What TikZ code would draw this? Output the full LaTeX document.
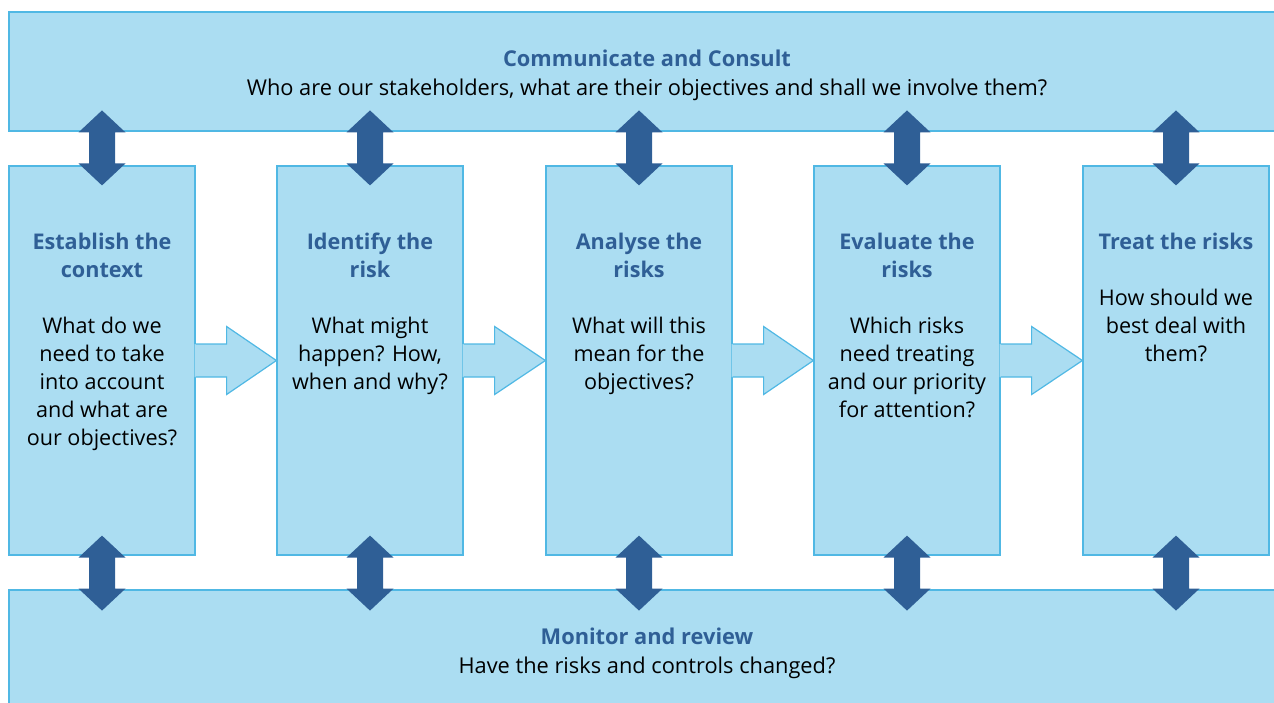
\documentclass[tikz,border=0pt]{standalone}
\usepackage{fontspec}
\setmainfont{Open Sans}
\usetikzlibrary{calc}
\definecolor{paleblue}{RGB}{171,221,242}
\definecolor{edgeblue}{RGB}{80,184,228}
\definecolor{deepblue}{RGB}{47,95,150}
\tikzset{
	band/.style={fill=paleblue,draw=edgeblue,line width=1.2pt},%
	stagebox/.style={band,minimum width=186,minimum height=389,inner sep=0},%
	bandtext/.style={align=center,inner sep=0,font=\fontsize{21.8}{29}\selectfont},%
	stagetext/.style={align=center,inner sep=0,anchor=north,yshift=-67pt,font=\fontsize{21.6}{28}\selectfont},%
	flowfill/.style={fill=paleblue},%
	flowline/.style={draw=edgeblue,line width=1.2pt,line join=miter},%
	linkarrow/.style={fill=deepblue},%
}
\newcommand\hd[1]{\textcolor{deepblue}{\bfseries #1}}

\begin{document}
\begin{tikzpicture}[x=1pt,y=-1pt]
	\useasboundingbox (0,0) rectangle (1274,702);
	\node[band,minimum width=1281,minimum height=119,inner sep=0] (consult) at (649.5,71.5) {};
	\node[bandtext] (consulttext) at (647,75.5) {\hd{Communicate and Consult}\\Who are our stakeholders, what are their objectives and shall we involve them?};
	\node[band,minimum width=1281,minimum height=120,inner sep=0] (monitor) at (649.5,650) {};
	\node[bandtext] (monitortext) at (647,653.5) {\hd{Monitor and review}\\Have the risks and controls changed?};
	\node[stagebox] (establish) at (102,360.5) {};
	\node[stagebox] (identify) at (370,360.5) {};
	\node[stagebox] (analyse) at (639,360.5) {};
	\node[stagebox] (evaluate) at (907,360.5) {};
	\node[stagebox] (treat) at (1176,360.5) {};
	\foreach \a/\b in {establish/identify,identify/analyse,analyse/evaluate,evaluate/treat}{
		\path[flowfill] ($(\a.east)+(-1,-16.5)$) -- ($(\a.east)+(31,-16.5)$) -- ($(\a.east)+(31,-34)$) -- (\b.west)
			-- ($(\a.east)+(31,34)$) -- ($(\a.east)+(31,16.5)$) -- ($(\a.east)+(-1,16.5)$) -- cycle;
		\draw[flowline] ($(\a.east)+(0,-16.5)$) -- ($(\a.east)+(31,-16.5)$) -- ($(\a.east)+(31,-34)$) -- (\b.west)
			-- ($(\a.east)+(31,34)$) -- ($(\a.east)+(31,16.5)$) -- ($(\a.east)+(0,16.5)$);
	}
	\foreach \b in {establish,identify,analyse,evaluate,treat}{
		\fill[linkarrow] ($(\b.north)+(0,-55)$) -- ++(23.5,22) -- ++(-10.5,0) -- ++(0,31) -- ++(10.5,0) -- ++(-23.5,22)
			-- ++(-23.5,-22) -- ++(10.5,0) -- ++(0,-31) -- ++(-10.5,0) -- cycle;
		\fill[linkarrow] ($(\b.south)+(0,-20)$) -- ++(23.5,22) -- ++(-10.5,0) -- ++(0,31) -- ++(10.5,0) -- ++(-23.5,22)
			-- ++(-23.5,-22) -- ++(10.5,0) -- ++(0,-31) -- ++(-10.5,0) -- cycle;
	}
	\node[stagetext] (establishtext) at (establish.north) {\hd{Establish the}\\\hd{context}\\\mbox{}\\What do we\\need to take\\into account\\and what are\\our objectives?};
	\node[stagetext] (identifytext) at (identify.north) {\hd{Identify the}\\\hd{risk}\\\mbox{}\\What might\\happen? How,\\when and why?};
	\node[stagetext] (analysetext) at (analyse.north) {\hd{Analyse the}\\\hd{risks}\\\mbox{}\\What will this\\mean for the\\objectives?};
	\node[stagetext] (evaluatetext) at (evaluate.north) {\hd{Evaluate the}\\\hd{risks}\\\mbox{}\\Which risks\\need treating\\and our priority\\for attention?};
	\node[stagetext] (treattext) at (treat.north) {\hd{Treat the risks}\\\mbox{}\\How should we\\best deal with\\them?};
\end{tikzpicture}
\end{document}
